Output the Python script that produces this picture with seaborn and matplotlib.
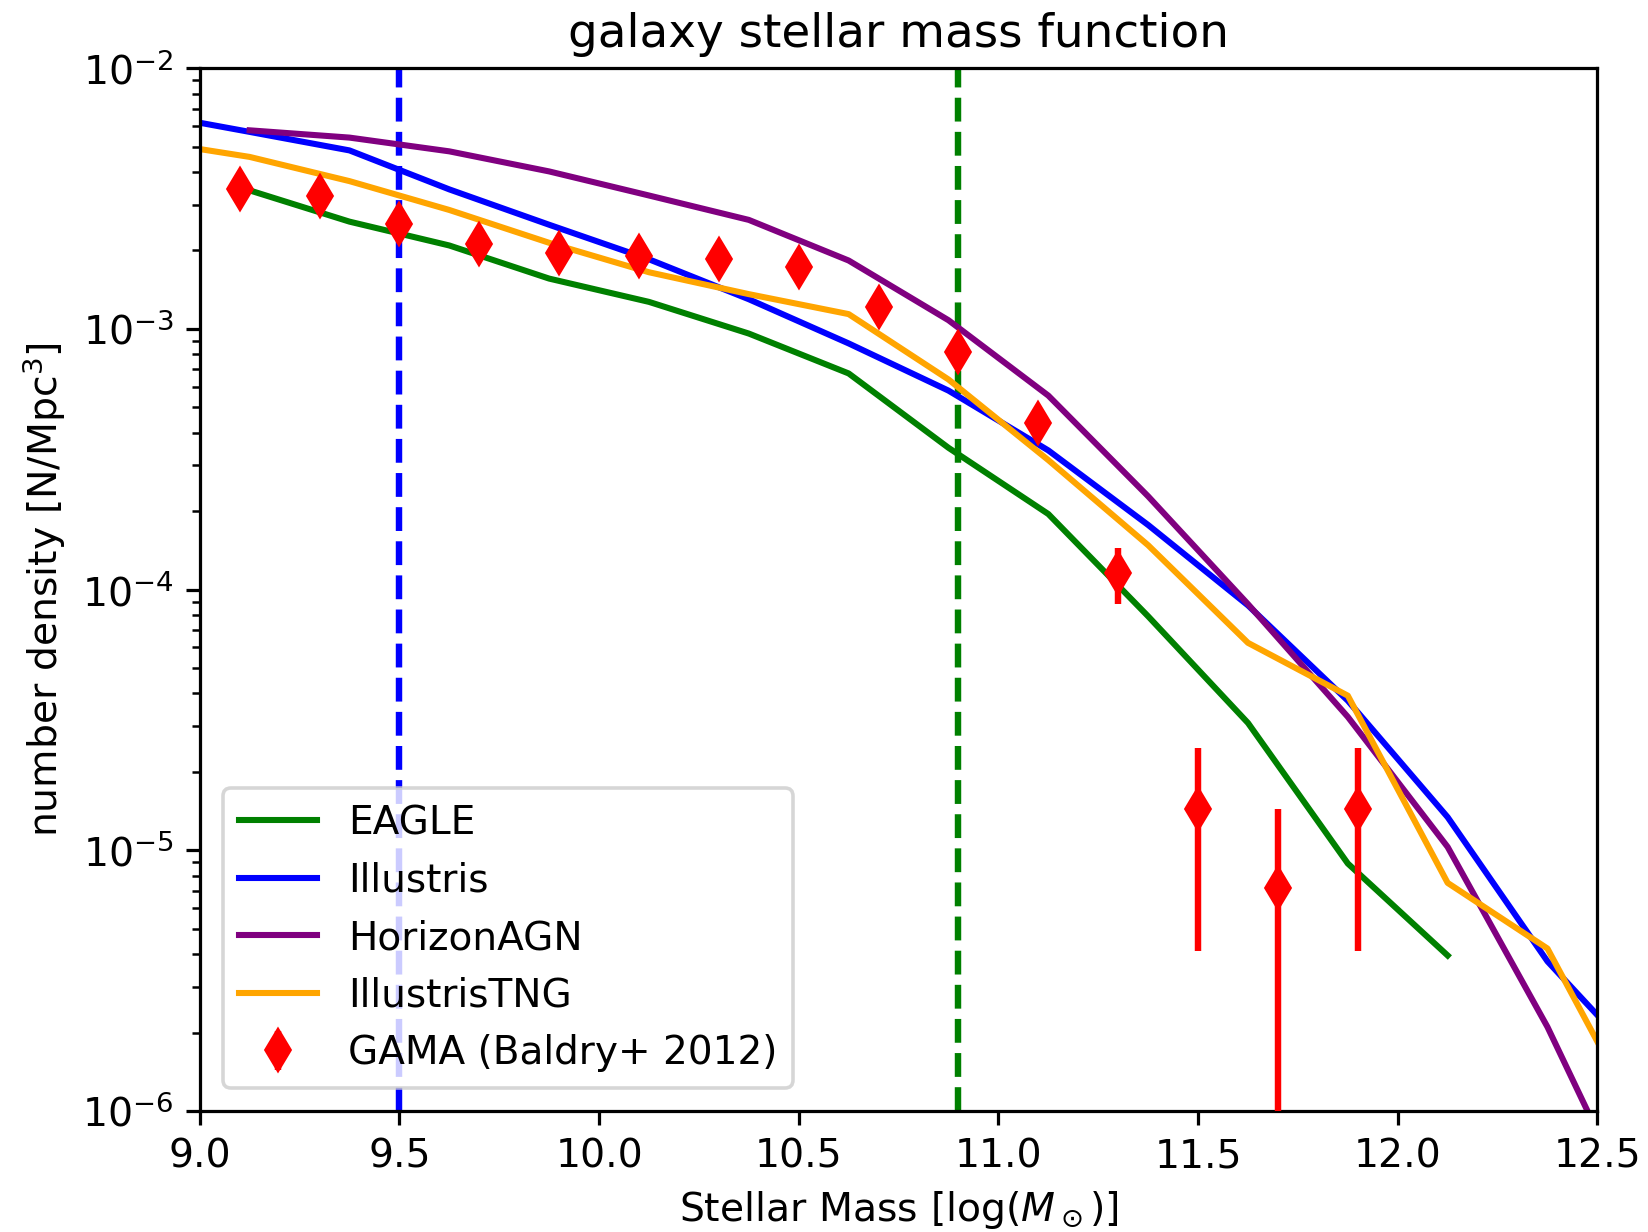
import numpy as np
import pandas as pd
import matplotlib
matplotlib.use("Agg")
import matplotlib.pyplot as plt
import seaborn as sns

# ---- data ----
sim_mass = [8.875, 9.125, 9.375, 9.625, 9.875, 10.125, 10.375, 10.625, 10.875,
            11.125, 11.375, 11.625, 11.875, 12.125, 12.375, 12.625]

eagle = [np.nan, 3.40e-3, 2.58e-3, 2.09e-3, 1.56e-3, 1.27e-3, 9.6e-4, 6.75e-4, 3.50e-4,
         1.95e-4, 7.9e-5, 3.08e-5, 8.9e-6, 3.95e-6, np.nan, np.nan]
illustris = [6.7e-3, 5.7e-3, 4.84e-3, 3.43e-3, 2.51e-3, 1.85e-3, 1.30e-3, 8.8e-4, 5.8e-4,
             3.42e-4, 1.77e-4, 8.7e-5, 3.75e-5, 1.34e-5, 3.75e-6, 1.45e-6]
horizon = [np.nan, 5.78e-3, 5.42e-3, 4.80e-3, 4.02e-3, 3.25e-3, 2.62e-3, 1.83e-3, 1.08e-3,
           5.55e-4, 2.28e-4, 8.8e-5, 3.25e-5, 1.03e-5, 2.10e-6, 3.3e-7]
tng = [5.25e-3, 4.57e-3, 3.69e-3, 2.86e-3, 2.14e-3, 1.65e-3, 1.36e-3, 1.14e-3, 6.4e-4,
       3.14e-4, 1.48e-4, 6.25e-5, 3.92e-5, 7.5e-6, 4.2e-6, 8.1e-7]

gama_mass = [9.1, 9.3, 9.5, 9.7, 9.9, 10.1, 10.3, 10.5, 10.7, 10.9, 11.1, 11.3, 11.5, 11.7, 11.9]
gama_phi = [3.43e-3, 3.25e-3, 2.53e-3, 2.12e-3, 1.95e-3, 1.90e-3, 1.86e-3, 1.73e-3, 1.21e-3,
            8.15e-4, 4.34e-4, 1.16e-4, 1.44e-5, 7.2e-6, 1.44e-5]
gama_err = [1.5e-4, 1.2e-4, 1.0e-4, 8e-5, 7e-5, 7e-5, 7e-5, 7e-5, 6e-5,
            5e-5, 4e-5, 2.8e-5, 1.03e-5, 7.2e-6, 1.03e-5]

sim_names = ["EAGLE", "Illustris", "HorizonAGN", "IllustrisTNG"]
sim_colors = ["green", "blue", "purple", "orange"]
sim_values = [eagle, illustris, horizon, tng]

cut_masses = [9.5, 10.9]
cut_colors = ["blue", "green"]

xticks = [9.0, 9.5, 10.0, 10.5, 11.0, 11.5, 12.0, 12.5]

# ---- figure ----
fs = 11.0
plt.rcParams.update({
    "font.size": fs,
    "axes.linewidth": 0.9,
    "xtick.major.width": 0.9,
    "ytick.major.width": 0.9,
    "ytick.minor.width": 0.7,
    "xtick.major.size": 3.8,
    "ytick.major.size": 3.8,
    "ytick.minor.size": 2.2,
})

fig = plt.figure(figsize=(6.4, 1232 / 257.5), dpi=257.5)
ax = fig.add_axes([0.1212, 0.0982, 0.8481, 0.8464])
ax.set_yscale("log")

for xc, cc in zip(cut_masses, cut_colors):
    ax.axvline(xc, color=cc, ls="--", lw=1.8, zorder=1)

for name, col, vals in zip(sim_names, sim_colors, sim_values):
    df = pd.DataFrame({"mass": sim_mass, "phi": vals}).dropna()
    sns.lineplot(data=df, x="mass", y="phi", ax=ax, color=col, lw=1.7,
                 label=name, sort=True, estimator=None, zorder=2)

ax.errorbar(gama_mass, gama_phi, yerr=gama_err, fmt="d", color="red",
            ms=7.8, elinewidth=1.8, capsize=0, label="GAMA (Baldry+ 2012)", zorder=3)

ax.set_xlim(9.0, 12.5)
ax.set_ylim(1e-6, 1e-2)
ax.set_xticks(xticks)
ax.set_xticklabels([f"{t:.1f}" for t in xticks])
ax.tick_params(labelsize=fs)

ax.set_xlabel(r"Stellar Mass [log($M_\odot$)]", fontsize=fs)
ax.set_ylabel(r"number density [N/Mpc$^3$]", fontsize=fs)
ax.set_title("galaxy stellar mass function", fontsize=13.1)

ax.legend(loc="lower left", fontsize=10.9, borderaxespad=0.6)

fig.savefig("out.png", dpi=257.5)
